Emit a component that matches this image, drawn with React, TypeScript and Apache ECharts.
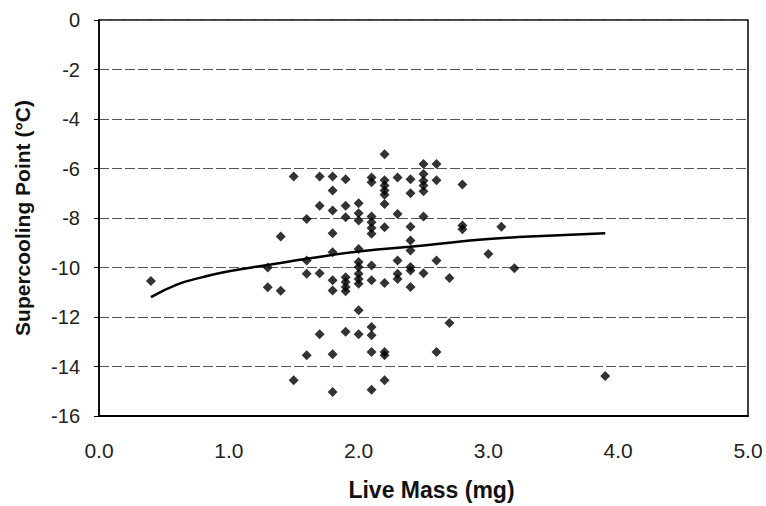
import React, { useEffect, useRef } from "react";
import * as echarts from "echarts";

const xTicks = [0, 1, 2, 3, 4, 5];
const yTicks = [0, -2, -4, -6, -8, -10, -12, -14, -16];

// scatter: live mass (mg) and supercooling point (°C)
const massX = [
  0.4,
  1.3, 1.3,
  1.4, 1.4,
  1.5, 1.5,
  1.6, 1.6, 1.6, 1.6,
  1.7, 1.7, 1.7, 1.7,
  1.8, 1.8, 1.8, 1.8, 1.8, 1.8, 1.8, 1.8, 1.8,
  1.9, 1.9, 1.9, 1.9, 1.9, 1.9, 1.9, 1.9,
  2.0, 2.0, 2.0, 2.0, 2.0, 2.0, 2.0, 2.0, 2.0, 2.0, 2.0,
  2.1, 2.1, 2.1, 2.1, 2.1, 2.1, 2.1, 2.1, 2.1, 2.1, 2.1, 2.1,
  2.2, 2.2, 2.2, 2.2, 2.2, 2.2, 2.2, 2.2, 2.2, 2.2, 2.2,
  2.3, 2.3, 2.3, 2.3, 2.3,
  2.4, 2.4, 2.4, 2.4, 2.4, 2.4, 2.4, 2.4,
  2.5, 2.5, 2.5, 2.5, 2.5, 2.5, 2.5,
  2.6, 2.6, 2.6, 2.6,
  2.7, 2.7,
  2.8, 2.8, 2.8,
  3.0,
  3.1,
  3.2,
  3.9,
];
const scpY = [
  -10.55,
  -10.0, -10.8,
  -8.75, -10.94,
  -6.32, -14.56,
  -8.04, -9.72, -10.25, -13.55,
  -6.32, -7.5, -10.23, -12.7,
  -6.32, -6.89, -7.7, -8.62, -9.38, -10.52, -10.93, -13.5, -15.03,
  -6.43, -7.5, -7.97, -10.39, -10.59, -10.79, -10.96, -12.6,
  -7.4, -7.81, -8.1, -9.25, -9.78, -9.98, -10.25, -10.46, -10.66, -11.73, -12.7,
  -6.36, -6.56, -7.94, -8.17, -8.4, -8.64, -9.92, -10.52, -12.4, -12.74, -13.41, -14.94,
  -5.42, -6.47, -6.69, -6.89, -7.06, -7.43, -8.37, -10.63, -13.41, -13.55, -14.56,
  -6.36, -7.84, -9.72, -10.25, -10.46,
  -6.43, -7.0, -8.35, -8.91, -9.31, -9.98, -10.12, -10.79,
  -5.82, -6.22, -6.49, -6.69, -6.92, -7.94, -10.23,
  -5.82, -6.47, -9.72, -13.41,
  -10.42, -12.24,
  -6.65, -8.3, -8.45,
  -9.45,
  -8.35,
  -10.03,
  -14.38,
];

// trend curve
const trendX = [0.4, 0.6, 0.8, 1.0, 1.3, 1.6, 2.0, 2.5, 3.0, 3.5, 3.9];
const trendY = [-11.2, -10.69, -10.39, -10.15, -9.9, -9.65, -9.35, -9.11, -8.85, -8.71, -8.62];

const FONT = "'Liberation Sans', Arial, sans-serif";

export default function App() {
  const ref = useRef<HTMLDivElement>(null);
  useEffect(() => {
    if (!ref.current) return;
    const chart = echarts.init(ref.current, null, { renderer: "svg" });
    chart.setOption({
      animation: false,
      backgroundColor: "#fff",
      grid: {
        left: 99,
        right: 18,
        top: 20,
        bottom: 89,
        show: true,
        borderColor: "#000",
        borderWidth: 1.5,
      },
      xAxis: {
        type: "value",
        min: xTicks[0],
        max: xTicks[xTicks.length - 1],
        interval: 1,
        name: "Live Mass (mg)",
        nameLocation: "middle",
        nameGap: 62,
        nameTextStyle: {
          fontFamily: FONT,
          fontSize: 23,
          fontWeight: "bold",
          color: "#111",
          padding: [0, 0, 0, 16],
        },
        axisLine: { show: true, onZero: false, lineStyle: { color: "#000", width: 2 } },
        axisTick: { show: false },
        splitLine: { show: false },
        axisLabel: {
          fontFamily: FONT,
          fontSize: 21,
          color: "#222",
          margin: 24,
          formatter: (v: number) => v.toFixed(1),
        },
      },
      yAxis: {
        type: "value",
        min: yTicks[yTicks.length - 1],
        max: yTicks[0],
        interval: 2,
        name: "Supercooling Point (°C)",
        nameLocation: "middle",
        nameGap: 66,
        nameTextStyle: { fontFamily: FONT, fontSize: 21, fontWeight: "bold", color: "#111" },
        axisLine: { show: true, onZero: false, lineStyle: { color: "#000", width: 1.5 } },
        axisTick: { show: true, length: 5, lineStyle: { color: "#000" } },
        splitLine: { show: true, lineStyle: { color: "#555", width: 1, type: [10, 3] } },
        axisLabel: { fontFamily: FONT, fontSize: 20, color: "#222", margin: 19 },
      },
      series: [
        {
          type: "scatter",
          symbol: "diamond",
          symbolSize: 10,
          itemStyle: { color: "#000" },
          data: massX.map((x, i) => [x, scpY[i]]),
          z: 3,
        },
        {
          type: "line",
          smooth: true,
          showSymbol: false,
          symbol: "none",
          lineStyle: { color: "#000", width: 2.5 },
          data: trendX.map((x, i) => [x, trendY[i]]),
          z: 4,
        },
      ],
    });
    return () => chart.dispose();
  }, []);
  return (
    <div style={{ position: "fixed", left: 0, top: 0, width: 766, height: 506, background: "#fff" }}>
      <div ref={ref} style={{ width: 766, height: 506 }} />
    </div>
  );
}
